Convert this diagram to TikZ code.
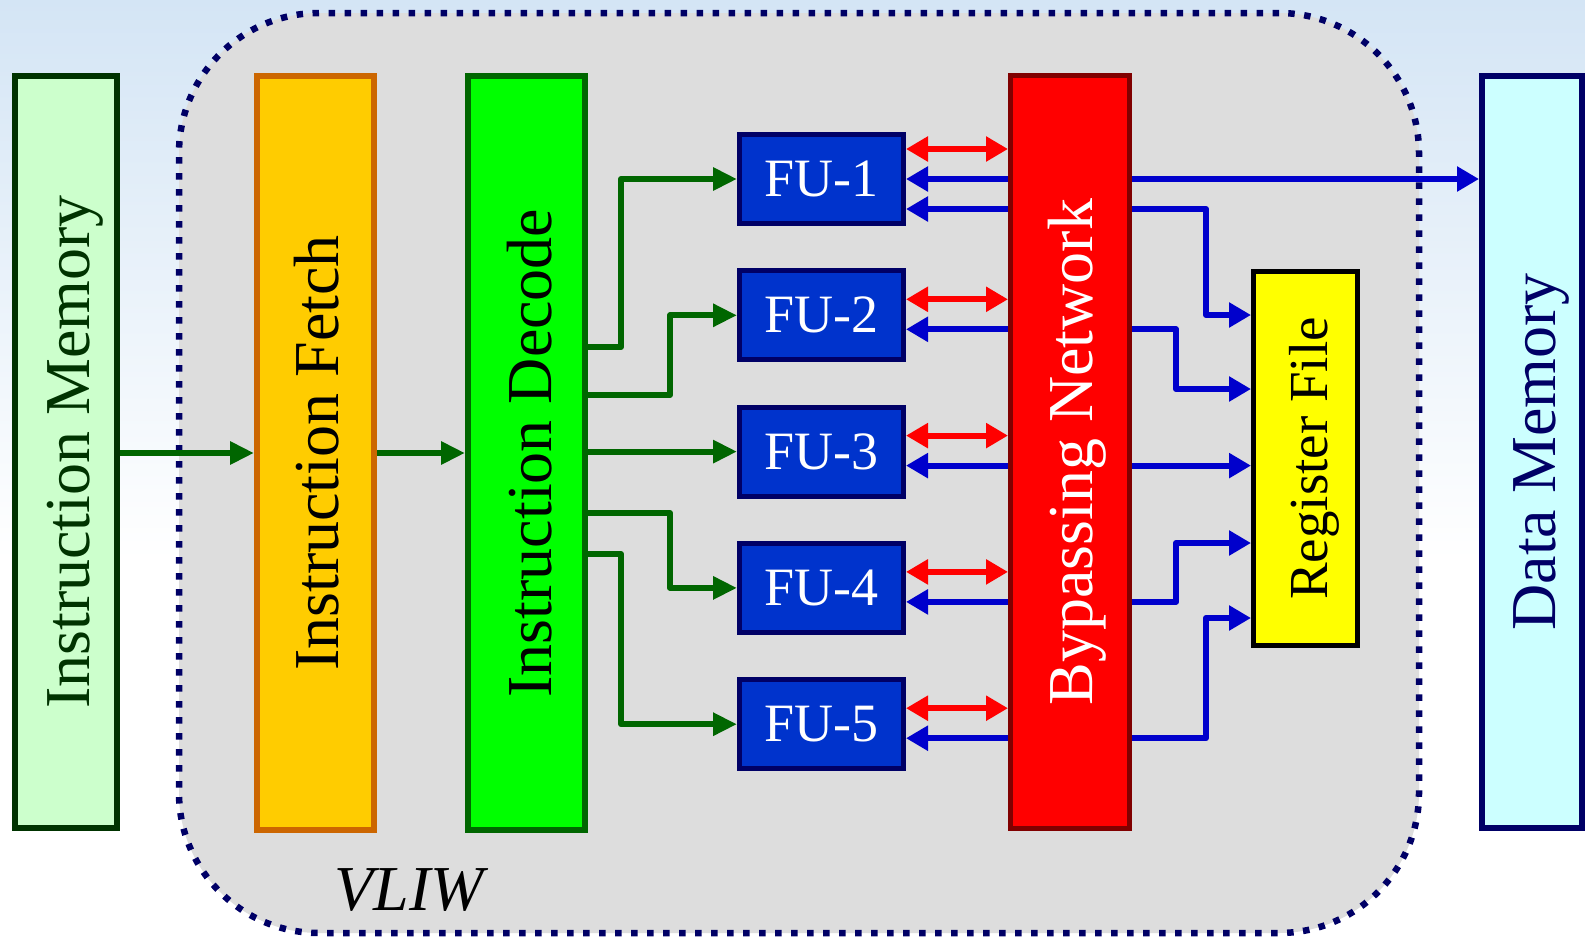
\documentclass[tikz,border=0pt]{standalone}
\usepackage{fontspec}
\setmainfont{Liberation Serif}
\usetikzlibrary{arrows.meta,calc}
\definecolor{imF}{HTML}{CCFFCC}\definecolor{imB}{HTML}{003300}
\definecolor{ifF}{HTML}{FFCC00}\definecolor{ifB}{HTML}{CC6600}
\definecolor{idF}{HTML}{00FF00}\definecolor{idB}{HTML}{006600}
\definecolor{fuF}{HTML}{0033CC}\definecolor{fuB}{HTML}{000066}
\definecolor{bnF}{HTML}{FF0000}\definecolor{bnB}{HTML}{800000}
\definecolor{rfF}{HTML}{FFFF00}
\definecolor{dmF}{HTML}{CCFFFF}\definecolor{dmB}{HTML}{000066}
\definecolor{cF}{HTML}{DDDDDD}\definecolor{cB}{HTML}{000066}
\definecolor{gL}{HTML}{006600}\definecolor{bL}{HTML}{0000CC}\definecolor{rL}{HTML}{FF0000}
\definecolor{bgT}{HTML}{D4E5F5}
\begin{document}
\begin{tikzpicture}[x=1pt,y=-1pt,
  box/.style={draw, line width=6pt, rectangle, inner sep=0pt},
  big/.style={font=\fontsize{64}{70}\selectfont, inner sep=0pt, rotate=90, anchor=base},
  fu/.style={draw=fuB, fill=fuF, line width=5pt, minimum width=164pt, minimum height=89pt, inner sep=0pt, text=white, font=\fontsize{54}{60}\selectfont},
  container/.style={draw=cB, fill=cF, line width=6.5pt, dash pattern=on 6.5pt off 9.5pt, rounded corners=140pt, inner sep=0pt},
  garr/.style={draw=gL, line width=6pt, -{Triangle[length=24pt,width=22pt]}, line join=round},
  barr/.style={draw=bL, line width=6pt, -{Triangle[length=22pt,width=24pt]}, line join=round},
  rarr/.style={draw=rL, line width=6pt, {Triangle[length=22pt,width=24pt]}-{Triangle[length=22pt,width=24pt]}},
]
\useasboundingbox (0,0) rectangle (1585,943);
\fill[white] (0,0) rectangle (1585,943);
\shade[top color=bgT, bottom color=white] (0,0) rectangle (1585,560);

\node[container, minimum width=1240pt, minimum height=920pt] (vliwbox) at (799,473) {};
\node[inner sep=0pt, font=\itshape\fontsize{64}{70}\selectfont] (vliw) at (409,890) {VLIW};

\node[box, draw=imB, fill=imF, minimum width=102pt, minimum height=752pt] (IM) at (66,452) {};
\node[big, text=imB] (IMt) at ($(IM.center)+(23,0)$) {Instruction Memory};
\node[box, draw=ifB, fill=ifF, minimum width=117pt, minimum height=754pt] (IF) at (315.5,453) {};
\node[big, text=black] (IFt) at ($(IF.center)+(23,0)$) {Instruction Fetch};
\node[box, draw=idB, fill=idF, minimum width=117pt, minimum height=754pt] (ID) at (526.5,453) {};
\node[big, text=black] (IDt) at ($(ID.center)+(25,0)$) {Instruction Decode};
\node[box, draw=bnB, fill=bnF, line width=5pt, minimum width=119pt, minimum height=753pt] (BN) at (1070,452) {};
\node[big, text=white] (BNt) at ($(BN.center)+(22,0)$) {Bypassing Network};
\node[box, draw=black, fill=rfF, line width=5pt, minimum width=104pt, minimum height=374pt] (RF) at (1305.5,458.5) {};
\node[rotate=90, anchor=base, text=black, inner sep=0pt, font=\fontsize{55}{60}\selectfont] (RFt) at ($(RF.center)+(21.5,0)$) {Register File};
\node[box, draw=dmB, fill=dmF, minimum width=100pt, minimum height=752pt] (DM) at (1532,452) {};
\node[big, text=dmB] (DMt) at ($(DM.center)+(23,0)$) {Data Memory};

\node[fu] (FU1) at (821.5,179) {FU-1};
\node[fu] (FU2) at (821.5,315.3) {FU-2};
\node[fu] (FU3) at (821.5,451.6) {FU-3};
\node[fu] (FU4) at (821.5,587.9) {FU-4};
\node[fu] (FU5) at (821.5,724.2) {FU-5};

% green
\draw[garr] (IM.east |- IF.west) -- (IF.west);
\draw[garr] (IF.east) -- (IF.east -| ID.west);
\coordinate (g1) at (621,347);
\coordinate (g2) at (670,395);
\coordinate (g4) at (670,513);
\coordinate (g5) at (621,554);
\draw[garr] (g1 -| ID.east) -- (g1) |- (FU1.west);
\draw[garr] (g2 -| ID.east) -- (g2) |- (FU2.west);
\draw[garr] (ID.east |- FU3.west) -- (FU3.west);
\draw[garr] (g4 -| ID.east) -- (g4) |- (FU4.west);
\draw[garr] (g5 -| ID.east) -- (g5) |- (FU5.west);

% red and blue, left of bypass
\path ([yshift=30pt]FU1.east) coordinate (r1);
\path ([yshift=-30pt]FU1.east) coordinate (b1);
\path ([yshift=16pt]FU2.east) coordinate (r2);
\path ([yshift=-14pt]FU2.east) coordinate (b2);
\path ([yshift=16pt]FU3.east) coordinate (r3);
\path ([yshift=-14pt]FU3.east) coordinate (b3);
\path ([yshift=16pt]FU4.east) coordinate (r4);
\path ([yshift=-14pt]FU4.east) coordinate (b4);
\path ([yshift=16pt]FU5.east) coordinate (r5);
\path ([yshift=-14pt]FU5.east) coordinate (b5);
\foreach \i in {1,...,5}{
  \draw[rarr] (r\i) -- (r\i -| BN.west);
  \draw[barr] (b\i -| BN.west) -- (b\i);
}
\draw[barr] (BN.west |- FU1.east) -- (FU1.east);

% right of bypass
\draw[barr] (BN.east |- FU1.east) -- (DM.west |- FU1.east);
\coordinate (v1) at (1206,315);
\coordinate (v2) at (1176,389);
\coordinate (v4) at (1176,543);
\coordinate (v5) at (1206,618);
\draw[barr] (b1 -| BN.east) -| (v1) -- (v1 -| RF.west);
\draw[barr] (b2 -| BN.east) -| (v2) -- (v2 -| RF.west);
\draw[barr] (b3 -| BN.east) -- (b3 -| RF.west);
\draw[barr] (b4 -| BN.east) -| (v4) -- (v4 -| RF.west);
\draw[barr] (b5 -| BN.east) -| (v5) -- (v5 -| RF.west);
\end{tikzpicture}
\end{document}
